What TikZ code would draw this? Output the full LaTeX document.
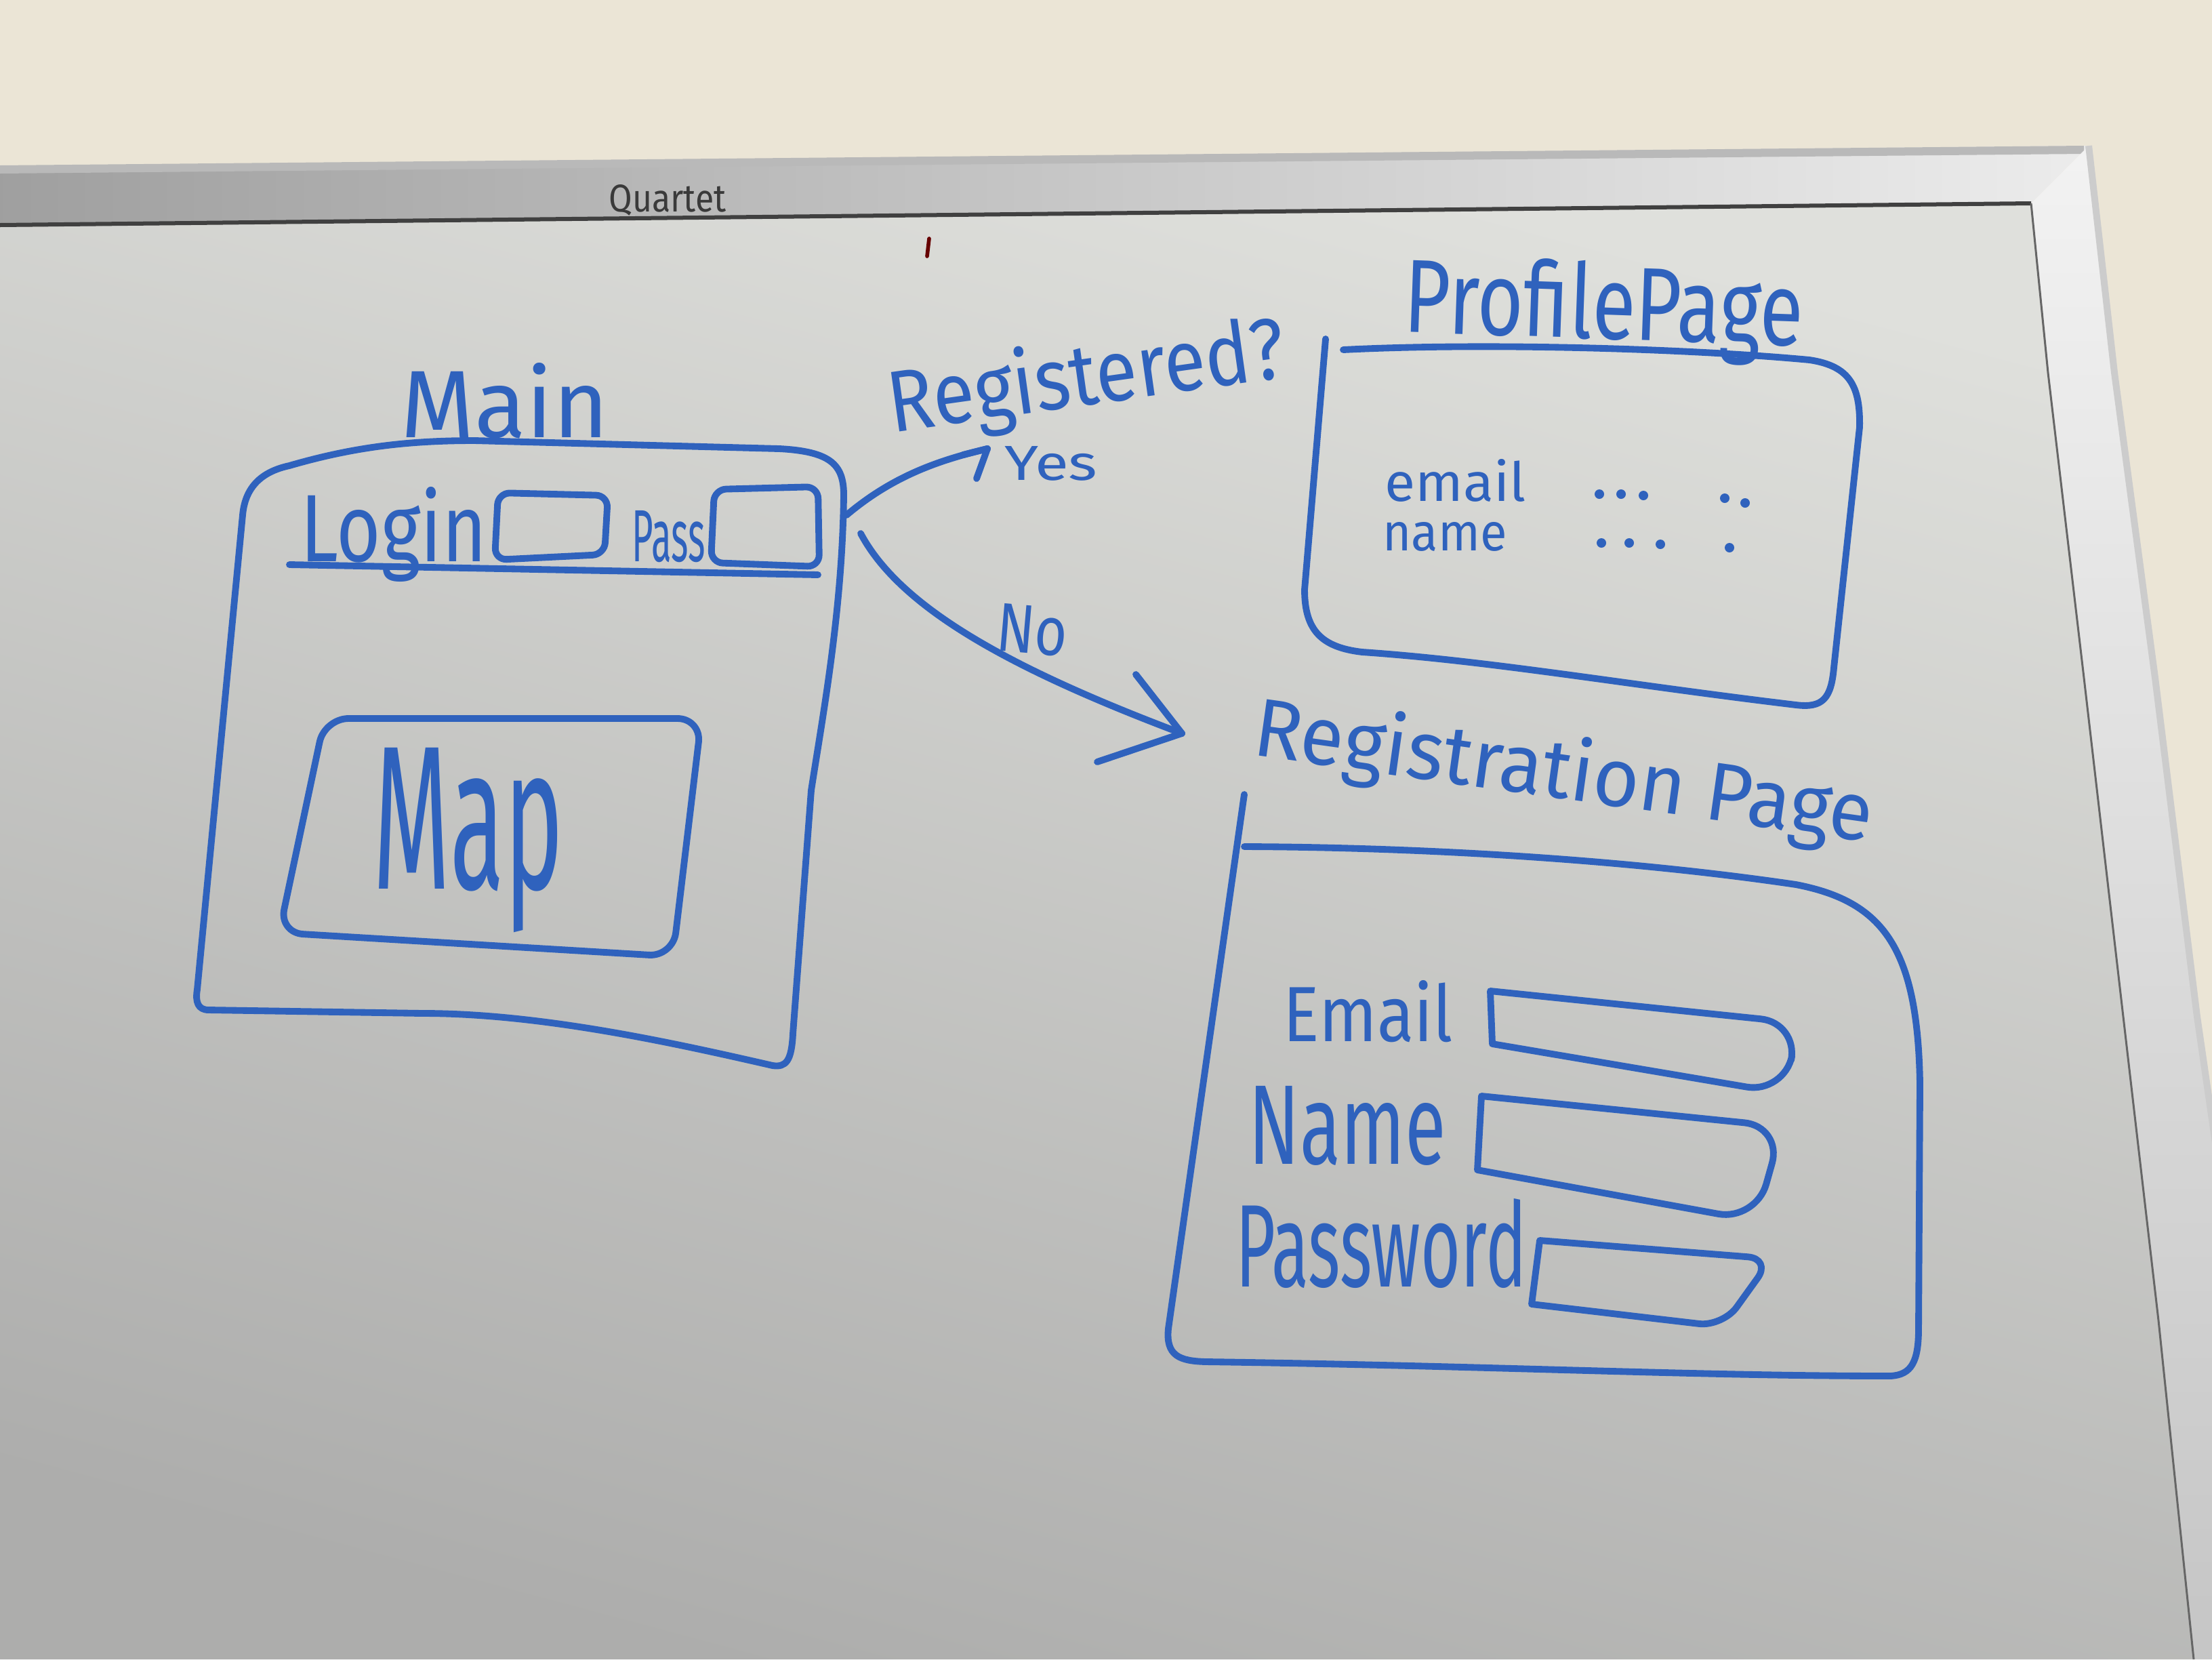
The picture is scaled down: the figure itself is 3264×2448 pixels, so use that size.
\documentclass[tikz,border=0pt]{standalone}
\usepackage{fontspec}
\setmainfont{Fira Sans}
\usepackage{graphicx}
\usetikzlibrary{arrows.meta}
\definecolor{marker}{HTML}{2F62BD}
\definecolor{wallc}{HTML}{EBE5D6}
\definecolor{boardtop}{HTML}{DFE0DC}
\definecolor{boardmid}{HTML}{D2D2D0}
\definecolor{boardbot}{HTML}{ADADAC}
\definecolor{logoc}{HTML}{3A3A3A}
\newcommand{\hwtext}[3]{\resizebox{#1}{#2}{#3}}
\begin{document}
\begin{tikzpicture}[x=0.01cm,y=-0.01cm,
  ink/.style={draw=marker, line width=2.8pt, line cap=round, line join=round},
  hw/.style={text=marker, inner sep=0pt, outer sep=0pt, anchor=base},
  dotmark/.style={fill=marker}]
\useasboundingbox (0,0) rectangle (3264,2448);
\clip (0,0) rectangle (3264,2448);
% wall
\fill[wallc] (0,0) rectangle (3264,2448);
% board surface
\shade[top color=boardtop, middle color=boardmid, bottom color=boardbot, shading angle=-15]
  (0,335) -- (2997,300) -- (3022,550) -- (3075,1000) -- (3133,1500) -- (3185,1948) -- (3237,2448) -- (0,2448) -- cycle;
% top frame band
\shade[left color=gray!75!white, right color=gray!15!white, middle color=gray!45!white]
  (0,245) -- (3082,215) -- (2997,300) -- (0,335) -- cycle;
\draw[gray!55!white, line width=0.12cm] (0,250) -- (3075,221);
\draw[black!75, line width=0.06cm] (0,332) -- (2997,300);
% right frame band
\shade[top color=gray!10!white, bottom color=gray!45!white]
  (3082,215) -- (3120,550) -- (3180,1000) -- (3242,1500) -- (3300,1900) -- (3330,2448)
  -- (3237,2448) -- (3185,1948) -- (3133,1500) -- (3075,1000) -- (3022,550) -- (2997,300) -- cycle;
\draw[gray!40!white, line width=0.1cm] (3082,215) -- (3120,550) -- (3180,1000) -- (3242,1500) -- (3300,1900);
\draw[black!60, line width=0.03cm] (2997,300) -- (3022,550) -- (3075,1000) -- (3133,1500) -- (3185,1948) -- (3237,2448);
% logo
\node[text=logoc, inner sep=0pt, anchor=base] (quartet) at (985,312) {\hwtext{1.73cm}{0.4cm}{Quartet}};
% small stray mark
\draw[draw=black!60!red, line width=1.6pt, line cap=round] (1371,352) -- (1368,378);

% ===== Main page =====
\node[hw] (mainlbl) at (745,645) {\hwtext{3.06cm}{1.1cm}{Main}};
\draw[ink] (308,1490) .. controls (292,1490) and (288,1478) .. (291,1460)
  -- (358,760) .. controls (362,715) and (390,695) .. (427,687)
  .. controls (520,660) and (600,650) .. (700,650) -- (1150,662)
  .. controls (1225,666) and (1245,685) .. (1245,730)
  .. controls (1243,900) and (1215,1050) .. (1197,1166)
  -- (1170,1525) .. controls (1168,1565) and (1160,1575) .. (1140,1572)
  .. controls (1000,1540) and (800,1495) .. (624,1495) -- cycle;
\node[hw] (loginlbl) at (581,828) {\hwtext{2.75cm}{1.1cm}{Login}};
\draw[ink, rounded corners=5] (730,826) -- (735,727) -- (897,731) -- (892,818) -- cycle;
\node[hw] (passlbl) at (987,828) {\hwtext{1.08cm}{0.75cm}{Pass}};
\draw[ink, rounded corners=5] (1049,830) -- (1054,722) -- (1207,718) -- (1209,836) -- cycle;
\draw[ink] (427,833) -- (1207,848);
% map
\draw[ink, rounded corners=10] (479,1060) -- (1035,1060) -- (993,1411) -- (412,1376) -- cycle;
\node[hw] (maplbl) at (691,1311) {\hwtext{2.81cm}{2.08cm}{Map}};

% ===== decision =====
\node[hw, rotate=8] (regq) at (1609,597) {\hwtext{5.9cm}{1.0cm}{Registered?}};
\coordinate (yesStart) at (1249,760);
\coordinate (yesTip) at (1457,662);
\draw[ink] (yesStart) .. controls (1320,700) and (1390,678) .. (yesTip);
\draw[ink] (yesTip) -- ++(-36,9);
\draw[ink] (yesTip) -- ++(-16,44);
\node[hw] (yeslbl) at (1551,708) {\hwtext{1.37cm}{0.5cm}{Yes}};

\coordinate (noStart) at (1270,787);
\coordinate (noTip) at (1744,1082);
\draw[ink] (noStart) .. controls (1330,900) and (1500,990) .. (noTip);
\draw[ink] (noTip) -- (1676,995);
\draw[ink] (noTip) -- (1619,1124);
\node[hw, rotate=-5] (nolbl) at (1520,964) {\hwtext{1.04cm}{0.7cm}{No}};

% ===== Profile page =====
\node[hw, rotate=-2] (proflbl) at (2365,500) {\hwtext{5.89cm}{1.15cm}{ProfilePage}};
\draw[ink] (1982,516) .. controls (2200,505) and (2500,515) .. (2670,531)
  .. controls (2730,540) and (2745,570) .. (2744,630)
  -- (2706,985) .. controls (2702,1030) and (2690,1045) .. (2650,1040)
  .. controls (2400,1010) and (2200,975) .. (2010,962)
  .. controls (1950,955) and (1925,930) .. (1925,870)
  -- (1956,500);
\node[hw] (emailp) at (2148,739) {\hwtext{2.08cm}{0.62cm}{email}};
\node[hw] (namep) at (2132,812) {\hwtext{1.83cm}{0.42cm}{name}};
\foreach \px/\py in {2360/729,2392/729,2425/731,2545/735,2575/742,2363/801,2404/801,2450/803,2552/808}
  \fill[dotmark] (\px,\py) circle (7);

% ===== Registration page =====
\node[hw, rotate=-8] (reglbl) at (2302,1178) {\hwtext{9.2cm}{0.95cm}{Registration Page}};
\draw[ink] (1836,1172) -- (1724,1960)
  .. controls (1720,2000) and (1740,2008) .. (1780,2009)
  .. controls (2200,2015) and (2500,2030) .. (2790,2030)
  .. controls (2820,2028) and (2831,2010) .. (2831,1960)
  -- (2833,1600)
  .. controls (2830,1400) and (2780,1330) .. (2650,1305)
  .. controls (2400,1268) and (2100,1250) .. (1836,1249);
\node[hw] (emaillbl) at (2019,1536) {\hwtext{2.5cm}{0.9cm}{Email}};
\draw[ink] (2202,1540) -- (2199,1462) [rounded corners=16] -- (2654,1509) -- (2633,1613) [sharp corners] -- (2202,1540);
\node[hw] (namelbl) at (1988,1717) {\hwtext{2.91cm}{1.15cm}{Name}};
\draw[ink] (2180,1726) -- (2186,1617) [rounded corners=16] -- (2630,1662) -- (2591,1801) [sharp corners] -- (2180,1726);
\node[hw] (passwordlbl) at (2038,1898) {\hwtext{4.29cm}{1.3cm}{Password}};
\draw[ink] (2260,1924) -- (2272,1830) [rounded corners=10] -- (2614,1857) -- (2542,1957) [sharp corners] -- (2260,1924);
\end{tikzpicture}
\end{document}
